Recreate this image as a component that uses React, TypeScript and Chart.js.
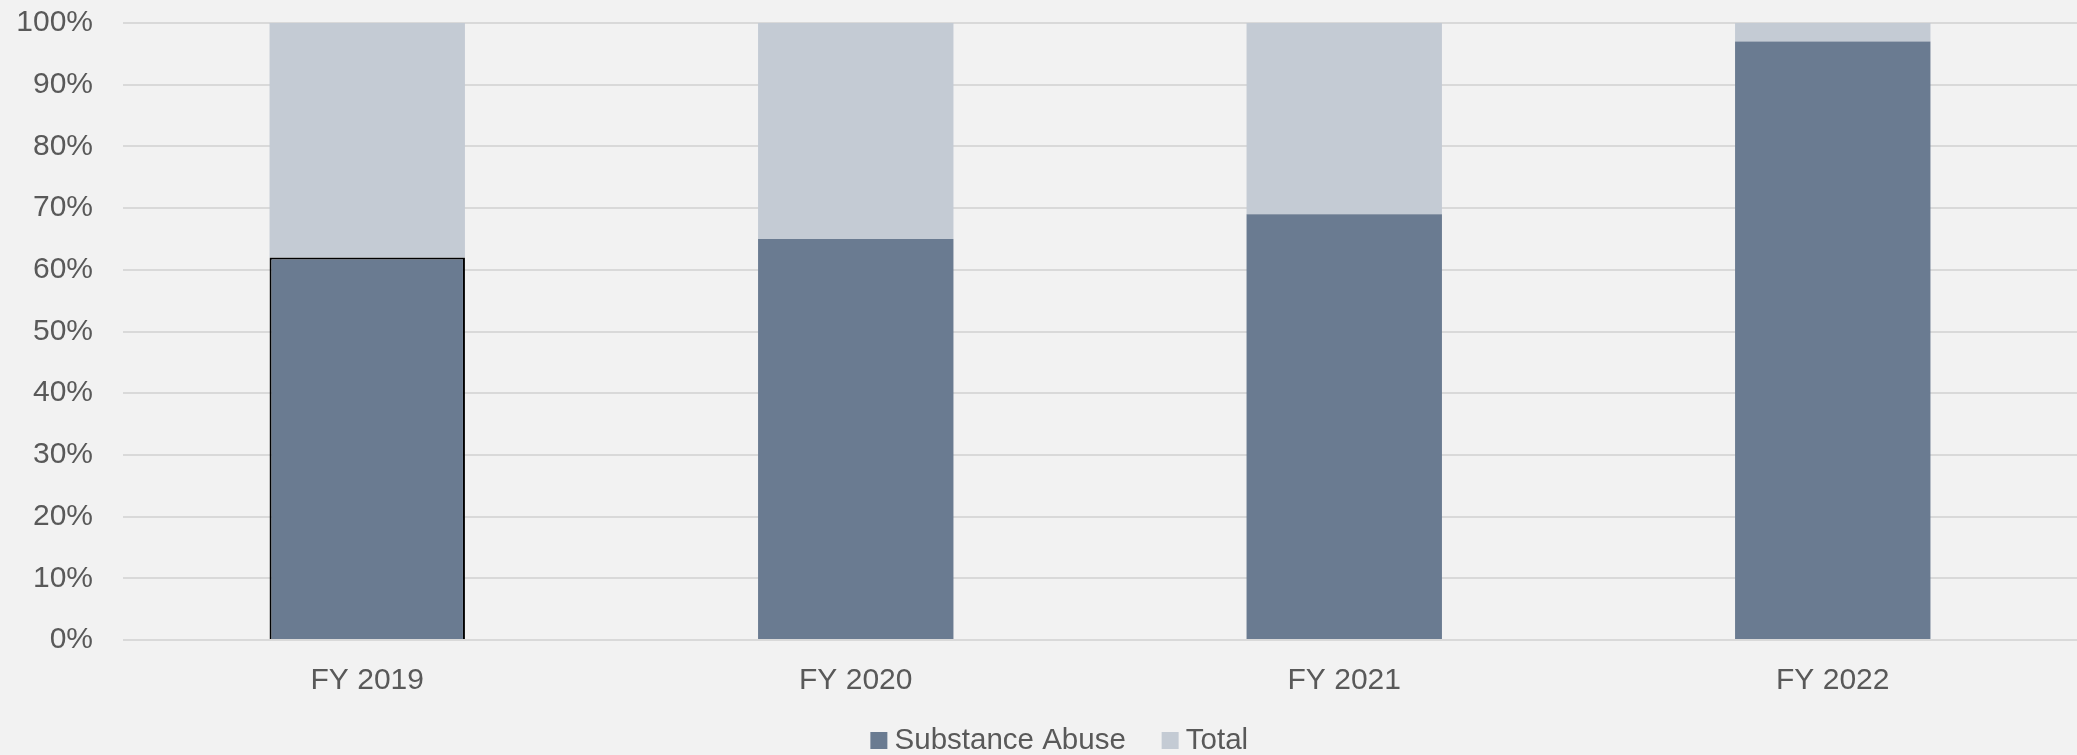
import React, { useEffect, useRef } from 'react';
import { Chart, registerables } from 'chart.js';

Chart.register(...registerables);

const categories = ['FY 2019', 'FY 2020', 'FY 2021', 'FY 2022'];
const substanceAbuse = [62, 65, 69, 97];
const total = [38, 35, 31, 3];
const yMin = 0;
const yMax = 100;
const yStep = 10;

const FONT = "'Liberation Sans', Arial, sans-serif";
const TEXT = '#595959';
const DARK = '#6a7b91';
const LIGHT = '#c4cbd4';

function legendSwatch(color: string): HTMLCanvasElement {
  const c = document.createElement('canvas');
  c.width = 56;
  c.height = 18;
  const ctx = c.getContext('2d')!;
  ctx.fillStyle = color;
  ctx.fillRect(38, 0, 17, 17);
  return c;
}

export default function App() {
  const ref = useRef<HTMLCanvasElement | null>(null);

  useEffect(() => {
    document.body.style.margin = '0';
    document.body.style.background = '#f2f2f2';
    if (!ref.current) return;
    const swatches = [legendSwatch(DARK), legendSwatch(LIGHT)];
    const chart = new Chart(ref.current, {
      type: 'bar',
      data: {
        labels: categories,
        datasets: [
          {
            label: 'Substance Abuse',
            data: substanceAbuse,
            backgroundColor: DARK,
            borderColor: ['#000000', 'rgba(0,0,0,0)', 'rgba(0,0,0,0)', 'rgba(0,0,0,0)'],
            borderWidth: [2, 0, 0, 0],
            categoryPercentage: 1,
            barPercentage: 0.4,
          },
          {
            label: 'Total',
            data: total,
            backgroundColor: LIGHT,
            borderWidth: 0,
            categoryPercentage: 1,
            barPercentage: 0.4,
          },
        ],
      },
      options: {
        animation: false,
        responsive: false,
        maintainAspectRatio: false,
        layout: { padding: { top: 23, left: 12, right: 0, bottom: -10.75 } },
        plugins: {
          tooltip: { enabled: false },
          legend: {
            position: 'bottom',
            labels: {
              usePointStyle: true,
              pointStyleWidth: 39,
              boxHeight: 17,
              padding: 6.25,
              color: TEXT,
              font: { family: FONT, size: 29.5 },
              generateLabels: (ch: any) => {
                const items = Chart.defaults.plugins.legend.labels.generateLabels(ch);
                return items.map((it: any, i: number) => ({
                  ...it,
                  pointStyle: swatches[i],
                  lineWidth: 0,
                  strokeStyle: 'rgba(0,0,0,0)',
                }));
              },
            },
          },
        },
        scales: {
          x: {
            stacked: true,
            grid: { display: false, drawTicks: false },
            border: { display: false },
            ticks: { color: TEXT, font: { family: FONT, size: 30 }, padding: 23 },
            afterFit: (s: any) => {
              s.height = 80;
              s.paddingLeft = 0;
              s.paddingRight = 0;
            },
          },
          y: {
            stacked: true,
            min: yMin,
            max: yMax,
            grid: { color: '#d9d9d9', lineWidth: 2, drawTicks: false, tickLength: 0 },
            border: { display: false },
            ticks: {
              stepSize: yStep,
              padding: 30,
              color: TEXT,
              font: { family: FONT, size: 30 },
              callback: (v: any) => v + '%',
            },
            afterFit: (s: any) => {
              s.width = 111;
              s.paddingTop = 0;
              s.paddingBottom = 0;
            },
          },
        },
      },
    });
    return () => chart.destroy();
  }, []);

  return (
    <div style={{ width: 2077, height: 755, background: '#f2f2f2' }}>
      <canvas ref={ref} width={2077} height={755} style={{ display: 'block' }} />
    </div>
  );
}
